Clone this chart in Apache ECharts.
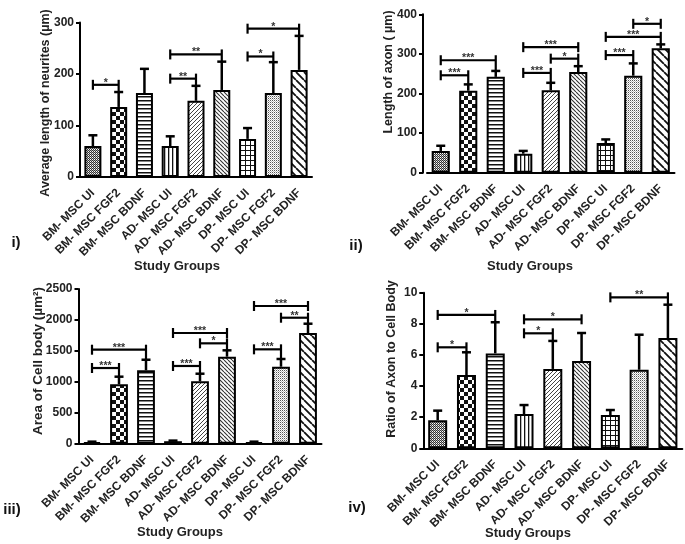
<!DOCTYPE html>
<html>
<head>
<meta charset="utf-8">
<script src="https://cdn.jsdelivr.net/npm/echarts@6/dist/echarts.min.js"></script>
<style>
html, body { margin: 0; padding: 0; background: #fff; }
#chart { width: 685px; height: 544px; }
</style>
</head>
<body>
<div id="chart"></div>
<script>
var groups = ['BM- MSC UI', 'BM- MSC FGF2', 'BM- MSC BDNF', 'AD- MSC UI', 'AD- MSC FGF2', 'AD- MSC BDNF', 'DP- MSC UI', 'DP- MSC FGF2', 'DP- MSC BDNF'];

// i) neurites
var neuriteMean = [60, 136, 163, 60, 148, 169, 74, 163, 208];
var neuriteSd = [21, 29, 47, 19, 29, 55, 21, 60, 66];
var neuriteTicks = [0, 100, 200, 300];
var neuriteSig = [[0, 1, 179, '*'], [3, 4, 191, '**'], [3, 5, 238, '**'], [6, 7, 234, '*'], [6, 8, 288, '*']];

// ii) axon
var axonMean = [55, 207, 242, 48, 208, 254, 75, 245, 314];
var axonSd = [13, 16, 15, 7, 19, 15, 9, 31, 10];
var axonTicks = [0, 100, 200, 300, 400];
var axonSig = [[0, 2, 284, '***'], [0, 1, 246, '***'], [3, 5, 317, '***'], [4, 5, 288, '*'], [3, 4, 252, '***'],
  [7, 8, 376, '*'], [6, 8, 343, '***'], [6, 7, 297, '***']];

// iii) cell body area
var cellMean = [25, 960, 1186, 40, 1008, 1406, 25, 1244, 1789];
var cellSd = [8, 123, 171, 10, 123, 103, 8, 125, 150];
var cellTicks = [0, 500, 1000, 1500, 2000, 2500];
var cellSig = [[0, 2, 1519, '***'], [0, 1, 1223, '***'], [3, 5, 1789, '***'], [4, 5, 1622, '*'], [3, 4, 1256, '***'],
  [6.3, 8, 2225, '***'], [7, 8, 2036, '**'], [6, 7, 1525, '***']];

// iv) ratio
var ratioMean = [1.80, 4.71, 6.10, 2.20, 5.10, 5.61, 2.14, 5.05, 7.09];
var ratioSd = [0.62, 1.46, 2.0, 0.58, 1.8, 1.8, 0.32, 2.25, 2.14];
var ratioTicks = [0, 2, 4, 6, 8, 10];
var ratioSig = [[0, 2, 8.57, '*'], [0, 1, 6.49, '*'], [3, 5, 8.29, '*'], [3, 4, 7.39, '*'], [6, 8, 9.7, '**']];

var yNames = ['Average length of neurites (µm)', 'Length of axon ( µm)', 'Area of Cell body (µm²)', 'Ratio of Axon to Cell Body'];
var panelTags = ['i)', 'ii)', 'iii)', 'iv)'];

var FONT = '"Liberation Sans", Arial, sans-serif';

// hatch fills for the nine groups
function tile(size, draw) {
  var c = document.createElement('canvas');
  c.width = size; c.height = size;
  var g = c.getContext('2d');
  g.fillStyle = '#fff';
  g.fillRect(0, 0, size, size);
  g.fillStyle = '#111';
  g.strokeStyle = '#111';
  draw(g, size);
  return { image: c, repeat: 'repeat' };
}
function diag(g, s, w, dir) {
  g.lineWidth = w;
  g.beginPath();
  for (var k = -s; k <= s; k += s) {
    if (dir > 0) { g.moveTo(k, s); g.lineTo(k + s, 0); }
    else { g.moveTo(k, 0); g.lineTo(k + s, s); }
  }
  g.stroke();
}
var fills = [
  tile(2, function (g) { g.fillStyle = '#333'; g.fillRect(0, 0, 1, 1); g.fillRect(1, 1, 1, 1); g.fillStyle = '#aaa'; g.fillRect(1, 0, 1, 1); }),
  tile(8, function (g) { g.fillRect(0, 0, 4, 4); g.fillRect(4, 4, 4, 4); }),
  tile(4, function (g) { g.fillRect(0, 0, 4, 1.5); }),
  tile(4, function (g) { g.fillRect(0, 0, 1.3, 4); }),
  tile(4, function (g) { g.strokeStyle = '#444'; diag(g, 4, 1, 1); }),
  tile(4, function (g) { g.strokeStyle = '#333'; diag(g, 4, 1.1, -1); }),
  tile(5, function (g) { g.fillRect(0, 0, 5, 1); g.fillRect(0, 0, 1, 5); }),
  tile(2, function (g) { g.fillStyle = '#555'; g.fillRect(0, 0, 1, 1); g.fillStyle = '#bbb'; g.fillRect(1, 1, 1, 1); }),
  tile(8, function (g) { diag(g, 8, 1.8, -1); })
];

var grids = [
  { left: 80, top: 22.5, width: 232, height: 154.5 },
  { left: 427, top: 14.3, width: 247.5, height: 158.4 },
  { left: 78.5, top: 289, width: 243, height: 154.7 },
  { left: 423.3, top: 292.7, width: 259, height: 155.6 }
];
var yOffsets = [0, 4, 0, 0];
var tickSets = [neuriteTicks, axonTicks, cellTicks, ratioTicks];
var means = [neuriteMean, axonMean, cellMean, ratioMean];
var sds = [neuriteSd, axonSd, cellSd, ratioSd];
var sigs = [neuriteSig, axonSig, cellSig, ratioSig];

function xAxisCfg(k) {
  return {
    type: 'category', gridIndex: k, data: groups,
    axisLine: { lineStyle: { color: '#000', width: 2 } },
    axisTick: { alignWithLabel: true, length: 4, lineStyle: { color: '#000', width: 2 } },
    axisLabel: { interval: 0, rotate: 45, margin: 14, color: '#222', fontSize: 12, fontWeight: 'bold', fontFamily: FONT },
    splitLine: { show: false }
  };
}
function yAxisCfg(k) {
  var t = tickSets[k];
  return {
    type: 'value', gridIndex: k, min: t[0], max: t[t.length - 1], interval: t[1] - t[0], offset: yOffsets[k],
    axisLine: { show: true, lineStyle: { color: '#000', width: 2 } },
    axisTick: { show: true, length: 4, lineStyle: { color: '#000', width: 2 } },
    axisLabel: { color: '#222', fontSize: 12, fontWeight: 'bold', fontFamily: FONT, margin: 6,
      formatter: function (v) { return String(v); } },
    splitLine: { show: false }
  };
}

function barSeries(k) {
  return {
    type: 'bar', xAxisIndex: k, yAxisIndex: k, barWidth: '66%', z: 2,
    itemStyle: { borderColor: '#000', borderWidth: 2 },
    data: means[k].map(function (m, i) { return { value: m, itemStyle: { color: fills[i] } }; })
  };
}

function errSeries(k) {
  var mean = means[k], sd = sds[k];
  return {
    type: 'custom', xAxisIndex: k, yAxisIndex: k, z: 3, silent: true,
    data: mean.map(function (m, i) { return [i, m, m + sd[i]]; }),
    encode: { x: 0, y: [1, 2] },
    renderItem: function (params, api) {
      var p0 = api.coord([api.value(0), api.value(1)]);
      var p1 = api.coord([api.value(0), api.value(2)]);
      var w = 4.5;
      return {
        type: 'group', children: [
          { type: 'line', shape: { x1: p0[0], y1: p0[1], x2: p1[0], y2: p1[1] }, style: { stroke: '#000', lineWidth: 2.5 } },
          { type: 'line', shape: { x1: p1[0] - w, y1: p1[1], x2: p1[0] + w, y2: p1[1] }, style: { stroke: '#000', lineWidth: 2.5 } }
        ]
      };
    }
  };
}

function sigSeries(k) {
  var sig = sigs[k], mean = means[k], sd = sds[k];
  return {
    type: 'custom', xAxisIndex: k, yAxisIndex: k, z: 4, silent: true,
    data: sig.map(function (b) { return [b[0], b[1], b[2]]; }),
    encode: { x: [0, 1], y: 2 },
    renderItem: function (params, api) {
      var b = sig[params.dataIndex];
      var a = api.coord([b[0], b[2]]);
      var c = api.coord([b[1], b[2]]);
      var e = api.coord([b[1], mean[b[1]] + sd[b[1]]]);
      var gap = e[1] - c[1];
      var drop = (gap > 0 && gap < 13) ? e[1] : c[1] + 5;
      var st = { stroke: '#000', lineWidth: 2.2 };
      return {
        type: 'group', children: [
          { type: 'line', shape: { x1: a[0], y1: a[1], x2: c[0], y2: c[1] }, style: st },
          { type: 'line', shape: { x1: a[0], y1: a[1] - 5, x2: a[0], y2: a[1] + 5 }, style: st },
          { type: 'line', shape: { x1: c[0], y1: c[1] - 5, x2: c[0], y2: drop }, style: st },
          { type: 'text', style: { text: b[3], x: (a[0] + c[0]) / 2, y: a[1] - 2,
            font: 'bold 10.5px ' + FONT, fill: '#333', textAlign: 'center', textVerticalAlign: 'middle',
            align: 'center', verticalAlign: 'middle' } }
        ]
      };
    }
  };
}

var nameSpots = [[46, 103], [389, 72], [38, 361], [392, 359]];
var nameSizes = [12.5, 12.5, 13.5, 12.5];
var groupSpots = [[177, 266], [530, 266], [180, 532], [528, 533]];
var tagSpots = [[16, 243], [356, 246], [12, 510], [357, 508]];

var graphics = [];
for (var k = 0; k < 4; k++) {
  graphics.push({ type: 'text', x: nameSpots[k][0], y: nameSpots[k][1], rotation: Math.PI / 2,
    style: { text: yNames[k], font: 'bold ' + nameSizes[k] + 'px ' + FONT, fill: '#222', align: 'center', verticalAlign: 'middle',
      textAlign: 'center', textVerticalAlign: 'middle' } });
  graphics.push({ type: 'text', x: groupSpots[k][0], y: groupSpots[k][1],
    style: { text: 'Study Groups', font: 'bold 13px ' + FONT, fill: '#222', align: 'center', verticalAlign: 'middle',
      textAlign: 'center', textVerticalAlign: 'middle' } });
  graphics.push({ type: 'text', x: tagSpots[k][0], y: tagSpots[k][1],
    style: { text: panelTags[k], font: 'bold 15px ' + FONT, fill: '#111', align: 'center', verticalAlign: 'middle',
      textAlign: 'center', textVerticalAlign: 'middle' } });
}

var series = [];
for (var j = 0; j < 4; j++) {
  series.push(barSeries(j), errSeries(j), sigSeries(j));
}

var option = {
  backgroundColor: '#fff',
  animation: false,
  grid: grids,
  xAxis: [0, 1, 2, 3].map(xAxisCfg),
  yAxis: [0, 1, 2, 3].map(yAxisCfg),
  graphic: graphics,
  series: series
};

var chart = echarts.init(document.getElementById('chart'));
chart.setOption(option);
</script>
</body>
</html>
